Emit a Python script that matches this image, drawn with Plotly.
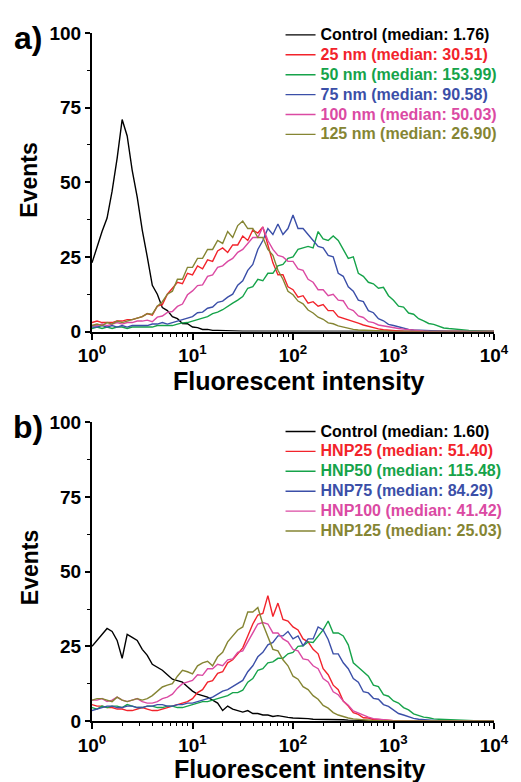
import plotly.graph_objects as go

# Histogram bins: log10 intensity from 10^0 to 10^4 in steps of 0.05 decade
LOG_STEP = 0.05
bins = [10 ** (i * LOG_STEP) for i in range(81)]

# ---------------- Panel a (nanoparticle size) ----------------
ctrl_a = [23, 28.5, 33.5, 38, 47, 58, 71, 65.5, 54, 45,
          34, 25, 15.5, 12.5, 8, 7, 5, 4.3, 2.7, 2.6,
          1.5, 1.3, 0.7, 0.7, 0.4, 0.4, 0.3, 0.2, 0.2, 0.1,
          0.1, 0.1, 0.1, 0, 0, 0, 0, 0, 0, 0,
          0, 0, 0, 0, 0, 0, 0, 0, 0, 0,
          0, 0, 0, 0, 0, 0, 0, 0, 0, 0,
          0, 0, 0, 0, 0, 0, 0, 0, 0, 0,
          0, 0, 0, 0, 0, 0, 0, 0, 0, 0,
          0]
nm25_a = [3, 3.5, 3, 3, 3, 3.5, 3.5, 4, 4, 4.5,
          5, 6, 5.5, 8.5, 9, 12.5, 14.5, 16.5, 16, 19.5,
          19, 22, 21, 24, 23.5, 27, 28, 26.5, 29, 29,
          32, 30.5, 34, 33, 35, 29, 23, 19, 19, 15,
          14, 11.5, 12, 9.5, 10, 8.5, 9, 7, 7, 5,
          4.5, 4, 3.5, 2.8, 2.2, 1.7, 1.2, 0.9, 0.6, 0.4,
          0.3, 0.2, 0.1, 0.1, 0, 0, 0, 0, 0, 0,
          0, 0, 0, 0, 0, 0, 0, 0, 0, 0,
          0]
nm50_a = [1, 1.5, 1, 1.5, 1, 1.5, 1.5, 1, 1.5, 1.5,
          1.5, 1.5, 1.5, 2, 2, 2, 2, 2.5, 2.9, 3,
          3.4, 4, 4.5, 5, 6, 6.5, 7.3, 8.5, 9.5, 10.5,
          11.7, 14.5, 15, 17.5, 17, 19.5, 19.5, 22, 22.5, 24.5,
          25, 27.5, 28, 28.5, 28, 33.5, 31, 30.5, 32, 30.5,
          27.5, 24.5, 25, 19.5, 18.5, 16.5, 16, 14.5, 14.8, 12,
          10.5, 8.5, 8.2, 6.2, 5.8, 4.3, 3.6, 2.7, 2.4, 1.7,
          1.2, 1, 0.8, 0.7, 0.5, 0.4, 0.3, 0.2, 0.1, 0.1,
          0]
nm75_a = [1.5, 1.5, 2, 1.5, 2, 1.5, 2, 1.5, 2, 2,
          1.8, 2, 2.5, 2.5, 3, 2.5, 3, 3.5, 4, 4.5,
          5, 6.3, 6.5, 7.8, 8.2, 9.8, 10.2, 11.5, 12.5, 15.5,
          17, 20.5, 22.5, 27.5, 30.5, 34.5, 32.5, 36, 32.5, 34.5,
          39, 34.5, 34.5, 32.5, 30.5, 28.5, 28, 25.5, 25, 19.5,
          18.5, 15, 13.5, 10.5, 10, 7, 6.3, 4.3, 3.6, 2.4,
          2, 1.5, 1, 0.7, 0.5, 0.4, 0.3, 0.2, 0.1, 0,
          0, 0, 0, 0, 0, 0, 0, 0, 0, 0,
          0]
nm100_a = [2, 2, 2.5, 2, 2.5, 3, 2.5, 3, 3, 3.5,
           3.5, 3.8, 3.3, 4.8, 5.2, 6.4, 6.7, 8.4, 9.2, 12.3,
           13.6, 15.4, 15.6, 18.5, 19, 21.5, 22, 23.5, 24.5, 26.5,
           27.5, 29.5, 31.5, 31.5, 35, 30.5, 27.5, 25.5, 25, 23.5,
           23.5, 21, 20.5, 17.5, 16.5, 14, 14, 12, 12.5, 10.5,
           10.3, 7.7, 7, 5.2, 4.7, 3.3, 3, 2.2, 1.9, 1.4,
           1.2, 1, 0.8, 0.6, 0.5, 0.3, 0.2, 0.1, 0, 0,
           0, 0, 0, 0, 0, 0, 0, 0, 0, 0,
           0]
nm125_a = [2, 2.5, 2, 3, 2.5, 3.5, 3, 3.5, 4, 4.5,
           5, 6, 5.8, 8.5, 10, 12.5, 13.5, 17.5, 17.5, 21.5,
           21.5, 24.5, 24.5, 27.5, 27.5, 30.5, 29.5, 33.5, 31.5, 35.5,
           37, 34.5, 34.5, 31.5, 31.5, 27.5, 25.5, 20.5, 17.5, 13.5,
           12.3, 10.2, 9.3, 7.2, 6.2, 4.8, 4.1, 2.9, 2.6, 1.9,
           1.5, 1, 0.7, 0.5, 0.4, 0.3, 0.2, 0.1, 0.1, 0,
           0, 0, 0, 0, 0, 0, 0, 0, 0, 0,
           0, 0, 0, 0, 0, 0, 0, 0, 0, 0,
           0]

# ---------------- Panel b (HNP) ----------------
ctrl_b = [25, 27, 29, 31, 30, 27, 21, 29, 28, 27,
          24, 22, 19, 18, 17, 15.5, 14, 13.5, 13, 11.5,
          10, 9, 8.6, 8, 7, 6, 3.5, 5, 4, 3.5,
          3, 3.5, 2.5, 2.5, 2, 2, 1.5, 1.8, 1.4, 1.2,
          1, 1, 0.8, 0.8, 0.6, 0.6, 0.5, 0.5, 0.4, 0.4,
          0.4, 0.3, 0.3, 0.3, 0.2, 0.2, 0.2, 0.2, 0.1, 0.1,
          0, 0, 0, 0, 0, 0, 0, 0, 0, 0,
          0, 0, 0, 0, 0, 0, 0, 0, 0, 0,
          0]
hnp25_b = [5.5, 5, 5, 4.5, 4.5, 4, 4, 3.5, 3.5, 4,
           4.5, 4, 3.5, 3.5, 4, 4.5, 5, 5.5, 6, 6.5,
           7.5, 9.5, 10.5, 13, 13.5, 16, 16.5, 19.5, 20.5, 22.5,
           24.5, 28.5, 32.5, 35.5, 36, 42, 35, 39.5, 34, 33.5,
           31.5, 30.5, 27.5, 26.5, 24, 22.5, 17.5, 15.5, 12, 10.5,
           6.7, 5, 2.8, 2.2, 1.1, 1, 0.5, 0.5, 0.3, 0.2,
           0.1, 0, 0, 0, 0, 0, 0, 0, 0, 0,
           0, 0, 0, 0, 0, 0, 0, 0, 0, 0,
           0]
hnp50_b = [4.5, 4, 5, 4.5, 5, 5, 4.5, 5.5, 5, 4.5,
           4.5, 5, 5, 4.5, 4.5, 5, 5, 4.5, 4.5, 5,
           5.5, 6, 6.5, 6.5, 7, 7.5, 8, 8.5, 9.5, 9.5,
           10.3, 13, 14.2, 17, 17.5, 19.5, 19.8, 21, 21, 22.5,
           23, 25, 25.2, 26.5, 26.3, 28.5, 30.5, 33.5, 29.5, 29.5,
           28.5, 25.5, 19.5, 18, 16.5, 15, 12, 11.5, 8.8, 8.3,
           6.7, 6, 4.5, 3.7, 2.4, 1.9, 1.3, 1.1, 0.7, 0.6,
           0.5, 0.4, 0.3, 0.3, 0.2, 0.2, 0.1, 0.1, 0, 0,
           0]
hnp75_b = [3.5, 4, 4.5, 5, 5, 4.5, 4.5, 5, 5, 4.5,
           4.5, 5, 5, 5.5, 5.5, 5, 5, 5.5, 5.5, 6,
           6, 6.5, 7, 7.5, 8, 9, 10, 10.5, 11.5, 12.5,
           13.6, 16.5, 18.5, 21.5, 23, 25.5, 26.3, 28.5, 28.5, 30,
           27.5, 28.5, 25.2, 27.5, 27.5, 31.5, 30.5, 27.3, 22.5, 22.5,
           19.5, 17.5, 14.2, 13, 9.8, 9.4, 7.6, 7.3, 5.5, 4.9,
           3.6, 2.5, 2, 1.4, 0.9, 0.6, 0.4, 0.3, 0.2, 0.1,
           0, 0, 0, 0, 0, 0, 0, 0, 0, 0,
           0]
hnp100_b = [7, 7, 7.5, 6.5, 7, 8, 7, 6.5, 7, 7.5,
            6.5, 6, 6, 6.5, 7.5, 8, 9, 11, 12.5, 13,
            13.6, 15.5, 15.3, 17.5, 17.5, 19, 18.5, 20.5, 20.8, 23,
            23.5, 26.5, 29.5, 32.5, 33, 32.5, 29.5, 29.5, 27.5, 26.5,
            24, 23.5, 20.8, 20.5, 18.5, 17.5, 14.2, 13, 9.8, 8.8,
            6.7, 5.3, 3.4, 2.7, 1.8, 1.3, 0.8, 0.6, 0.3, 0.2,
            0.1, 0, 0, 0, 0, 0, 0, 0, 0, 0,
            0, 0, 0, 0, 0, 0, 0, 0, 0, 0,
            0]
hnp125_b = [7, 7.5, 7.5, 7, 6.5, 8, 7, 6.5, 7, 7.5,
            7, 7.5, 8.5, 10, 11.4, 12, 12.5, 15, 17, 16.5,
            15.8, 18.5, 19.5, 20, 18.5, 21.5, 23, 26.5, 28.5, 30.5,
            31.5, 36.5, 36.5, 38, 32.5, 28.5, 24, 23.5, 20.5, 18.5,
            15, 14, 11.5, 10.5, 8.5, 7.3, 5.2, 4.3, 2.8, 2,
            1.4, 1, 0.7, 0.5, 0.3, 0.2, 0.1, 0.1, 0, 0,
            0, 0, 0, 0, 0, 0, 0, 0, 0, 0,
            0, 0, 0, 0, 0, 0, 0, 0, 0, 0,
            0]

labels_a = ["Control (median: 1.76)", "25 nm (median: 30.51)", "50 nm (median: 153.99)",
            "75 nm (median: 90.58)", "100 nm (median: 50.03)", "125 nm (median: 26.90)"]
labels_b = ["Control (median: 1.60)", "HNP25 (median: 51.40)", "HNP50 (median: 115.48)",
            "HNP75 (median: 84.29)", "HNP100 (median: 41.42)", "HNP125 (median: 25.03)"]
colors = ["#000000", "#f2232b", "#16a34a", "#3b4fa8", "#db4aa3", "#858533"]

series_a = [ctrl_a, nm25_a, nm50_a, nm75_a, nm100_a, nm125_a]
series_b = [ctrl_b, hnp25_b, hnp50_b, hnp75_b, hnp100_b, hnp125_b]

x_ticks = [1, 10, 100, 1000, 10000]
x_ticktext = ["10<sup>0</sup>", "10<sup>1</sup>", "10<sup>2</sup>", "10<sup>3</sup>", "10<sup>4</sup>"]
x_minor = [m * d for d in (1, 10, 100, 1000) for m in range(2, 10)]
y_ticks = [0, 25, 50, 75, 100]

FONT = "Liberation Sans, Arial, sans-serif"


def legend_name(lab, col):
    return f"<span style='color:{col};font-size:16px'>{lab}</span>"


fig = go.Figure()
for vals, lab, col in zip(series_a, labels_a, colors):
    fig.add_trace(go.Scatter(x=bins, y=vals, mode="lines", line=dict(color=col, width=1.4),
                             name=legend_name(lab, col),
                             xaxis="x", yaxis="y", legend="legend"))
for vals, lab, col in zip(series_b, labels_b, colors):
    fig.add_trace(go.Scatter(x=bins, y=vals, mode="lines", line=dict(color=col, width=1.4),
                             name=legend_name(lab, col),
                             xaxis="x2", yaxis="y2", legend="legend2"))

xaxis_common = dict(type="log", range=[0, 4], showline=True, linewidth=2, linecolor="black",
                    ticks="outside", ticklen=6, tickwidth=1.5, tickcolor="black",
                    tickvals=x_ticks, ticktext=x_ticktext, showgrid=False, zeroline=False,
                    tickfont=dict(family=FONT, size=19, color="black", weight="bold"),
                    minor=dict(ticks="outside", ticklen=3, tickwidth=1, tickcolor="black",
                               tickvals=x_minor, showgrid=False))
yaxis_common = dict(range=[0, 100], showline=True, linewidth=2, linecolor="black",
                    ticks="outside", ticklen=5, tickwidth=1.5, tickcolor="black",
                    tickvals=y_ticks, showgrid=False, zeroline=False,
                    tickfont=dict(family=FONT, size=19, color="black", weight="bold"),
                    minor=dict(ticks="outside", ticklen=3, tickwidth=1, tickcolor="black",
                               dtick=12.5, showgrid=False))

legend_common = dict(bgcolor="rgba(0,0,0,0)", borderwidth=0, xanchor="left", yanchor="top",
                     font=dict(family=FONT, size=13, color="black", weight="bold"),
                     itemwidth=30, tracegroupgap=0)

# page body adds an 8px margin, so the figure is 8px smaller than the window
fig.update_layout(
    width=513, height=774,
    margin=dict(l=84, r=18, t=17, b=61),
    paper_bgcolor="white", plot_bgcolor="white",
    xaxis=dict(domain=[0, 1], anchor="y", **xaxis_common),
    yaxis=dict(domain=[0.5661, 1], anchor="x", **yaxis_common),
    xaxis2=dict(domain=[0, 1], anchor="y2", **xaxis_common),
    yaxis2=dict(domain=[0, 0.4339], anchor="x2", **yaxis_common),
    legend=dict(x=0.469, y=1.019, **legend_common),
    legend2=dict(x=0.469, y=0.4425, **legend_common),
    showlegend=True,
)

ann_font = dict(family=FONT, color="black", weight="bold")
annotations = [
    dict(text="a)", x=-0.158, y=0.9928, size=32),
    dict(text="b)", x=-0.158, y=0.428, size=32),
    dict(text="Fluorescent intensity", x=0.515, y=0.4943, size=25),
    dict(text="Fluorescent intensity", x=0.517, y=-0.0704, size=25),
]
for a in annotations:
    fig.add_annotation(text=a["text"], x=a["x"], y=a["y"], xref="paper", yref="paper",
                       xanchor="center", yanchor="middle", showarrow=False,
                       font=dict(size=a["size"], **ann_font))
for yy in (0.786, 0.2227):
    fig.add_annotation(text="Events", x=-0.1557, y=yy, xref="paper", yref="paper",
                       xanchor="center", yanchor="middle", showarrow=False, textangle=-90,
                       font=dict(size=23, **ann_font))

fig.write_html("out.html")
